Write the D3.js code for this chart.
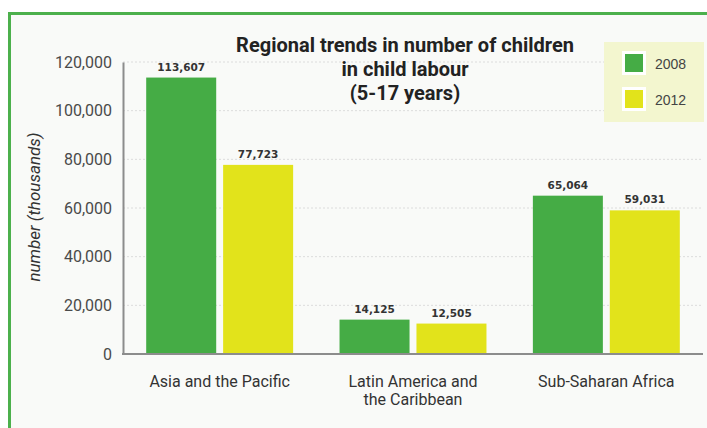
<!DOCTYPE html>
<html>
<head>
<meta charset="utf-8">
<script src="https://cdn.jsdelivr.net/npm/d3@7"></script>
<style>
  body { margin: 0; background: #ffffff; }
  svg { display: block; }
</style>
</head>
<body>
<div id="vis-holder"></div>
<script>
// Data
const regions = ["Asia and the Pacific", "Latin America and the Caribbean", "Sub-Saharan Africa"];
const regionLines = [["Asia and the Pacific"], ["Latin America and", "the Caribbean"], ["Sub-Saharan Africa"]];
const years = ["2008", "2012"];
const values2008 = [113607, 14125, 65064];
const values2012 = [77723, 12505, 59031];
const yTicks = [0, 20000, 40000, 60000, 80000, 100000, 120000];
const titleLines = ["Regional trends in number of children", "in child labour", "(5-17 years)"];

const width = 707, height = 428;
const margin = { top: 62, right: 4, bottom: 74, left: 123 };

const svg = d3.select("#vis-holder")
  .append("svg")
  .attr("width", width)
  .attr("height", height);

// panel background + green frame
svg.append("rect")
  .attr("x", 10).attr("y", 13)
  .attr("width", width - 10).attr("height", height - 13)
  .attr("fill", "#f9faf8");
svg.append("path")
  .attr("d", `M9.5,${height} V13.5 H${width}`)
  .attr("fill", "none")
  .attr("stroke", "#4cb04c")
  .attr("stroke-width", 3);

const x0 = d3.scaleBand()
  .domain(regions)
  .range([margin.left, width - margin.right])
  .paddingInner(0.24)
  .paddingOuter(0.12);

const x1 = d3.scaleBand()
  .domain(years)
  .range([0, x0.bandwidth()])
  .paddingInner(0.09);

const y = d3.scaleLinear()
  .domain([0, 120000])
  .range([height - 74, margin.top]);

const color = d3.scaleOrdinal()
  .domain(years)
  .range(["#45ac45", "#e2e31b"]);

// dashed grid
svg.append("g")
  .selectAll("line")
  .data(yTicks.filter(d => d > 0))
  .join("line")
  .attr("x1", margin.left)
  .attr("x2", width - margin.right)
  .attr("y1", d => y(d))
  .attr("y2", d => y(d))
  .attr("stroke", "#dcdcdc")
  .attr("stroke-width", 1)
  .attr("stroke-dasharray", "2,2");

// y axis
const yAxis = svg.append("g")
  .attr("transform", `translate(${margin.left},0)`)
  .call(d3.axisLeft(y).tickValues(yTicks).tickSize(0).tickPadding(11).tickFormat(d3.format(",")));
yAxis.select(".domain").attr("stroke", "#8c8c8c").attr("stroke-width", 2);
yAxis.selectAll("text")
  .attr("font-family", "'Roboto', sans-serif")
  .attr("font-size", 16)
  .attr("fill", "#4a4a4a");

// bars
const rows = regions.map((r, i) => ({ region: r, vals: [
  { year: "2008", value: values2008[i] },
  { year: "2012", value: values2012[i] }
]}));

const groups = svg.append("g")
  .selectAll("g")
  .data(rows)
  .join("g")
  .attr("transform", d => `translate(${x0(d.region)},0)`);

groups.selectAll("rect")
  .data(d => d.vals)
  .join("rect")
  .attr("x", d => x1(d.year))
  .attr("y", d => y(d.value))
  .attr("width", x1.bandwidth())
  .attr("height", d => y(0) - y(d.value))
  .attr("fill", d => color(d.year));

groups.selectAll("text.val")
  .data(d => d.vals)
  .join("text")
  .attr("class", "val")
  .attr("x", d => x1(d.year) + x1.bandwidth() / 2)
  .attr("y", d => y(d.value) - 7)
  .attr("text-anchor", "middle")
  .attr("font-family", "'DejaVu Sans', sans-serif")
  .attr("font-weight", "bold")
  .attr("font-size", 10.5)
  .attr("fill", "#333")
  .text(d => d3.format(",")(d.value));

// x axis line
svg.append("line")
  .attr("x1", margin.left - 1)
  .attr("x2", width - margin.right)
  .attr("y1", y(0))
  .attr("y2", y(0))
  .attr("stroke", "#8c8c8c")
  .attr("stroke-width", 2);

// category labels
svg.append("g")
  .selectAll("text")
  .data(regions)
  .join("text")
  .attr("x", d => x0(d) + x0.bandwidth() / 2)
  .attr("y", 387)
  .attr("text-anchor", "middle")
  .attr("font-family", "'Roboto', sans-serif")
  .attr("font-size", 16)
  .attr("fill", "#333")
  .each(function(d, i) {
    d3.select(this).selectAll("tspan")
      .data(regionLines[i])
      .join("tspan")
      .attr("x", x0(d) + x0.bandwidth() / 2)
      .attr("dy", (t, j) => j === 0 ? 0 : 18)
      .text(t => t);
  });

// y axis title
svg.append("text")
  .attr("transform", "translate(40,207) rotate(-90)")
  .attr("text-anchor", "middle")
  .attr("font-family", "'Roboto', sans-serif")
  .attr("font-style", "italic")
  .attr("font-size", 17)
  .attr("fill", "#333")
  .text("number (thousands)");

// chart title
svg.append("g")
  .selectAll("text")
  .data(titleLines)
  .join("text")
  .attr("x", 405)
  .attr("y", (d, i) => 52 + i * 24)
  .attr("text-anchor", "middle")
  .attr("font-family", "'Roboto', sans-serif")
  .attr("font-weight", "bold")
  .attr("font-size", 20)
  .attr("fill", "#222")
  .text(d => d);

// legend
const legend = svg.append("g");
legend.append("rect")
  .attr("x", 604).attr("y", 42)
  .attr("width", 100).attr("height", 80)
  .attr("fill", "#f3f6cf");
const items = legend.selectAll("g")
  .data(years)
  .join("g")
  .attr("transform", (d, i) => `translate(622,${51 + i * 36})`);
items.append("rect")
  .attr("x", 1.5).attr("y", 1.5)
  .attr("width", 21).attr("height", 21)
  .attr("fill", d => color(d))
  .attr("stroke", "#ffffff")
  .attr("stroke-width", 3);
items.append("text")
  .attr("x", 33)
  .attr("y", 18)
  .attr("font-family", "'Liberation Sans', 'Roboto', sans-serif")
  .attr("font-size", 14)
  .attr("fill", "#444")
  .text(d => d);
</script>
</body>
</html>
